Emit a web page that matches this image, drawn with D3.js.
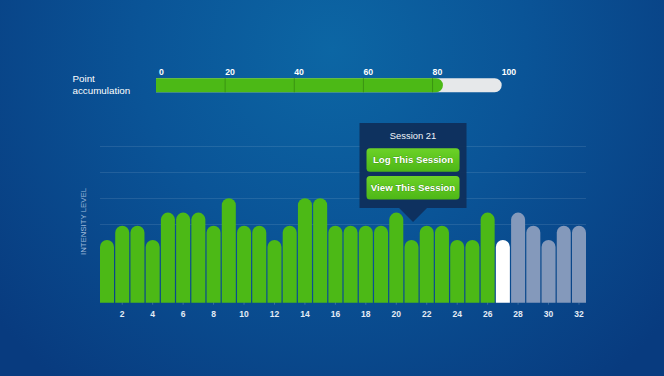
<!DOCTYPE html>
<html lang="en">
<head>
    <meta charset="UTF-8">
    <title>Session intensity</title>
    <script src="https://cdn.jsdelivr.net/npm/d3@7"></script>
    <style>
        html, body { margin: 0; padding: 0; background: #0a4a8c; }
        svg { display: block; font-family: "Liberation Sans", Arial, sans-serif; }
    </style>
</head>
<body>
    <div id="chart"></div>
    <script>
        // sessions and intensity
        var sessions = d3.range(1, 33);
        var intensity = [4.8, 5.9, 5.9, 4.8, 6.9, 6.9, 6.9, 5.9, 8, 5.9, 5.9, 4.8, 5.9, 8, 8, 5.9,
                         5.9, 5.9, 5.9, 6.9, 4.8, 5.9, 5.9, 4.8, 4.8, 6.9, 4.8, 6.9, 5.9, 4.8, 5.9, 5.9];
        var doneCount = 26;      // sessions already done (green)
        var currentSession = 27; // white bar
        var xTicks = d3.range(2, 33, 2);
        var gridValues = [6, 8, 10, 12];

        var points = 83;
        var pointTicks = [0, 20, 40, 60, 80, 100];
        var tipSession = 21;
        var tipButtons = ["Log This Session", "View This Session"];

        var W = 664, H = 376;

        var svg = d3.select("#chart").append("svg")
            .attr("width", W)
            .attr("height", H);

        var defs = svg.append("defs");
        var bg = defs.append("radialGradient")
            .attr("id", "bg")
            .attr("gradientUnits", "userSpaceOnUse")
            .attr("cx", 332).attr("cy", 50).attr("r", 430);
        bg.append("stop").attr("offset", 0).attr("stop-color", "#0c66a4");
        bg.append("stop").attr("offset", 0.45).attr("stop-color", "#0a5497");
        bg.append("stop").attr("offset", 1).attr("stop-color", "#083b7f");

        var btnGrad = defs.append("linearGradient")
            .attr("id", "btn").attr("x1", 0).attr("y1", 0).attr("x2", 0).attr("y2", 1);
        btnGrad.append("stop").attr("offset", 0).attr("stop-color", "#6cd227");
        btnGrad.append("stop").attr("offset", 1).attr("stop-color", "#4db717");

        svg.append("rect")
            .attr("width", W).attr("height", H)
            .attr("fill", "url(#bg)");

        // ---- point accumulation bar ----
        var xP = d3.scaleLinear().domain([0, 100]).range([156, 501.7]);
        var pTop = 78.3, pH = 14;

        svg.append("text")
            .attr("x", 72.5).attr("y", 82)
            .attr("fill", "#ffffff")
            .style("font-size", "9.8px")
            .text("Point");
        svg.append("text")
            .attr("x", 72.5).attr("y", 94.3)
            .attr("fill", "#ffffff")
            .style("font-size", "9.8px")
            .text("accumulation");

        function rightRounded(x0, x1, y0, h) {
            var r = h / 2;
            return "M" + x0 + "," + y0 + "H" + (x1 - r) +
                "A" + r + "," + r + " 0 0 1 " + (x1 - r) + "," + (y0 + h) +
                "H" + x0 + "Z";
        }

        svg.append("path")
            .attr("d", rightRounded(xP(0), xP(100), pTop, pH))
            .attr("fill", "#e6e8ea");
        svg.append("path")
            .attr("d", rightRounded(xP(0), xP(points), pTop, pH))
            .attr("fill", "#4cb916");

        svg.selectAll(".pdiv")
            .data(pointTicks.filter(d => d > 0 && d < points))
            .enter()
            .append("line")
            .attr("class", "pdiv")
            .attr("x1", d => xP(d)).attr("x2", d => xP(d))
            .attr("y1", pTop).attr("y2", pTop + pH)
            .attr("stroke", "#3a9412")
            .attr("stroke-width", 1);

        svg.selectAll(".plabel")
            .data(pointTicks)
            .enter()
            .append("text")
            .attr("class", "plabel")
            .attr("x", d => d === 0 ? xP(d) + 3 : xP(d))
            .attr("y", 75.3)
            .attr("fill", "#ffffff")
            .style("font-size", "8.7px")
            .style("font-weight", "bold")
            .text(d => d);

        // ---- intensity bars ----
        var x = d3.scaleBand()
            .domain(sessions)
            .range([100, 586])
            .paddingInner(0.08)
            .paddingOuter(0);

        var y = d3.scaleLinear()
            .domain([0, 12])
            .range([302.7, 146]);

        svg.selectAll(".grid")
            .data(gridValues)
            .enter()
            .append("line")
            .attr("class", "grid")
            .attr("x1", 100).attr("x2", 586)
            .attr("y1", d => Math.round(y(d)) + 0.5)
            .attr("y2", d => Math.round(y(d)) + 0.5)
            .attr("stroke", "#ffffff")
            .attr("stroke-opacity", 0.1);

        function barPath(d, i) {
            var x0 = x(sessions[i]), w = x.bandwidth(), r = w / 2;
            var top = y(d), base = y(0);
            return "M" + x0 + "," + base + "V" + (top + r) +
                "A" + r + "," + r + " 0 0 1 " + (x0 + w) + "," + (top + r) +
                "V" + base + "Z";
        }

        svg.selectAll(".bar")
            .data(intensity)
            .enter()
            .append("path")
            .attr("class", "bar")
            .attr("d", barPath)
            .attr("fill", function(d, i) {
                var s = sessions[i];
                if (s <= doneCount) return "#4cb916";
                if (s === currentSession) return "#ffffff";
                return "#8499bb";
            });

        // x axis
        var xAxis = svg.append("g")
            .attr("transform", "translate(0," + y(0) + ")")
            .call(d3.axisBottom(x).tickValues(xTicks).tickSize(2).tickPadding(6));
        xAxis.select(".domain").remove();
        xAxis.selectAll(".tick line")
            .attr("stroke", "#ffffff")
            .attr("stroke-opacity", 0.2);
        xAxis.selectAll(".tick text")
            .attr("fill", "#e4ecf6")
            .style("font-size", "8.5px")
            .style("font-weight", "bold")
            .style("font-family", "'Liberation Sans', Arial, sans-serif");

        svg.append("text")
            .attr("transform", "translate(86," + 221.5 + ") rotate(-90)")
            .attr("text-anchor", "middle")
            .attr("fill", "#9fb9d9")
            .style("font-size", "7.8px")
            .text("INTENSITY LEVEL");

        // ---- tooltip ----
        var tipIndex = sessions.indexOf(tipSession);
        var cx = x(tipSession) + x.bandwidth() / 2 + 1.5;
        var boxW = 107, boxTop = 123, boxBottom = 208;
        var tip = svg.append("g");

        tip.append("path")
            .attr("d", "M" + (cx - boxW / 2) + "," + boxTop +
                "H" + (cx + boxW / 2) + "V" + boxBottom +
                "H" + (cx + 14) + "L" + cx + "," + (boxBottom + 14) +
                "L" + (cx - 14) + "," + boxBottom +
                "H" + (cx - boxW / 2) + "Z")
            .attr("fill", "#0f2f5c")
            .attr("fill-opacity", 0.95);

        tip.append("text")
            .attr("x", cx).attr("y", 139)
            .attr("text-anchor", "middle")
            .attr("fill", "#f2f5fa")
            .style("font-size", "9.4px")
            .text("Session " + sessions[tipIndex]);

        var btn = tip.selectAll(".btn")
            .data(tipButtons)
            .enter()
            .append("g")
            .attr("class", "btn")
            .attr("transform", (d, i) => "translate(" + (cx - 46.5) + "," + (148.3 + i * 27.7) + ")");

        btn.append("rect")
            .attr("width", 93).attr("height", 23.5)
            .attr("rx", 3.5)
            .attr("fill", "url(#btn)");

        btn.append("text")
            .attr("x", 46.5).attr("y", 15.2)
            .attr("text-anchor", "middle")
            .attr("fill", "#ffffff")
            .style("font-size", "9.7px")
            .style("font-weight", "bold")
            .style("paint-order", "stroke")
            .attr("stroke", "#3a8f12")
            .attr("stroke-width", 0.6)
            .text(d => d);
    </script>
</body>
</html>
